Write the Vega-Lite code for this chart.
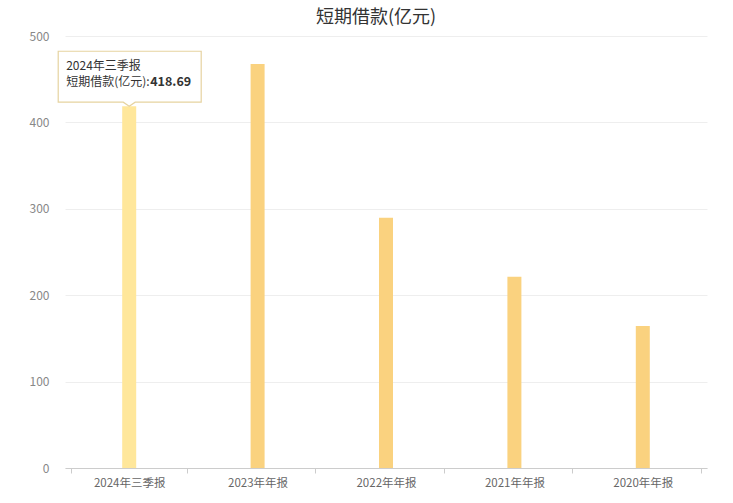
{
  "$schema": "https://vega.github.io/schema/vega-lite/v6.json",
  "width": 642,
  "height": 432,
  "autosize": {"type": "none"},
  "padding": {"left": 65, "top": 36, "right": 26, "bottom": 35},
  "background": "#ffffff",
  "title": {
    "text": "短期借款(亿元)",
    "fontSize": 18,
    "fontWeight": "normal",
    "color": "#333333",
    "font": "Noto Sans CJK SC",
    "baseline": "bottom",
    "offset": 2,
    "dx": -10,
    "dy": 17
  },
  "data": {
    "values": [
      {"period": "2024年三季报", "value": 418.69},
      {"period": "2023年年报", "value": 467.6},
      {"period": "2022年年报", "value": 289.7},
      {"period": "2021年年报", "value": 221.4},
      {"period": "2020年年报", "value": 164.4}
    ]
  },
  "encoding": {
    "x": {
      "field": "period",
      "type": "nominal",
      "sort": null,
      "title": null,
      "axis": {
        "labelAngle": 0,
        "labelColor": "#666666",
        "labelFontSize": 11.5,
        "labelFont": "Noto Sans CJK SC",
        "domainColor": "#cccccc",
        "tickColor": "#cccccc",
        "tickSize": 5,
        "tickBand": "extent",
        "labelPadding": 4,
        "grid": false
      }
    },
    "y": {
      "field": "value",
      "type": "quantitative",
      "title": null,
      "scale": {"domain": [0, 500]},
      "axis": {
        "values": [0, 100, 200, 300, 400, 500],
        "domain": false,
        "ticks": false,
        "labelColor": "#888888",
        "labelFontSize": 12,
        "labelFont": "Noto Sans CJK SC",
        "labelPadding": 16,
        "gridColor": "#eeeeee"
      }
    }
  },
  "layer": [
    {
      "mark": {"type": "bar", "size": 14},
      "encoding": {
        "color": {
          "condition": {"test": "datum.period === '2024年三季报'", "value": "#FFE79B"},
          "value": "#FAD27F"
        }
      }
    },
    {
      "transform": [{"filter": "datum.period === '2024年三季报'"}],
      "mark": {
        "type": "point",
        "shape": "M0,0 L-0.083,-0.056 L-0.986,-0.056 L-0.986,-0.764 L1,-0.764 L1,-0.056 L0.083,-0.056 Z",
        "size": 20736,
        "filled": true,
        "fill": "#ffffff",
        "fillOpacity": 0.95,
        "stroke": "#E6D3A0",
        "strokeWidth": 1.2,
        "opacity": 1
      }
    },
    {
      "transform": [{"filter": "datum.period === '2024年三季报'"}],
      "mark": {
        "type": "text",
        "align": "left",
        "baseline": "middle",
        "dx": -63,
        "dy": -40,
        "fontSize": 12,
        "font": "Noto Sans CJK SC",
        "color": "#333333"
      },
      "encoding": {"text": {"field": "period"}}
    },
    {
      "transform": [{"filter": "datum.period === '2024年三季报'"}],
      "mark": {
        "type": "text",
        "align": "left",
        "baseline": "middle",
        "dx": -63,
        "dy": -24,
        "fontSize": 12,
        "font": "Noto Sans CJK SC",
        "color": "#333333",
        "text": "短期借款(亿元):"
      },
      "encoding": {}
    },
    {
      "transform": [{"filter": "datum.period === '2024年三季报'"}],
      "mark": {
        "type": "text",
        "align": "left",
        "baseline": "middle",
        "dx": 21,
        "dy": -24,
        "fontSize": 12.5,
        "fontWeight": "bold",
        "font": "Noto Sans CJK SC",
        "color": "#333333"
      },
      "encoding": {"text": {"field": "value", "type": "quantitative", "format": ".2f"}}
    }
  ],
  "config": {"view": {"stroke": null}}
}
